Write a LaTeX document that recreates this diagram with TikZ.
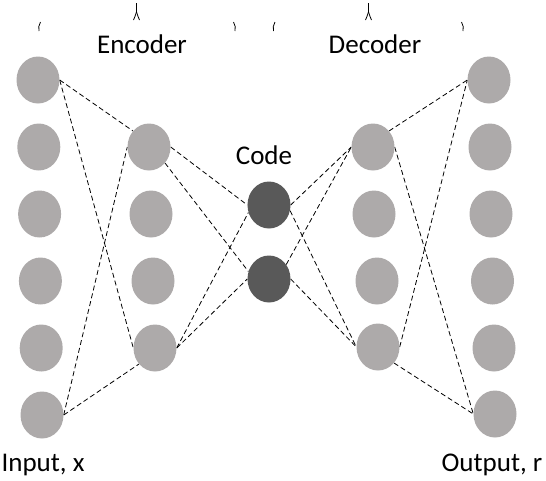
\documentclass[tikz,border=0pt]{standalone}
\usepackage{fontspec}
\setmainfont{Carlito}
\usetikzlibrary{shapes.geometric,backgrounds}
\definecolor{lightnode}{RGB}{173,170,170}
\definecolor{darknode}{RGB}{89,89,89}
\begin{document}
\begin{tikzpicture}[x=1pt,y=-1pt,
  neuron/.style={ellipse,fill=lightnode,draw=none,minimum width=43pt,minimum height=47pt,inner sep=0pt},
  codeneuron/.style={neuron,fill=darknode},
  link/.style={draw=black,line width=0.8pt,dash pattern=on 5pt off 3pt},
  lbl/.style={font=\fontsize{27}{32}\selectfont,anchor=base,inner sep=0pt},
  brace/.style={draw=black,line width=0.8pt}]
\useasboundingbox (0,0) rectangle (546,480);
% input column
\node[neuron] (i1) at (38,80) {};
\node[neuron] (i2) at (38.8,147) {};
\node[neuron] (i3) at (39.6,214) {};
\node[neuron] (i4) at (40.4,281) {};
\node[neuron] (i5) at (41.2,348) {};
\node[neuron] (i6) at (42,415) {};
% encoder
\node[neuron] (e1) at (149,147) {};
\node[neuron] (e2) at (151,214) {};
\node[neuron] (e3) at (153,281) {};
\node[neuron] (e4) at (155,348) {};
% code
\node[codeneuron] (c1) at (269,205) {};
\node[codeneuron] (c2) at (269,279) {};
% decoder
\node[neuron] (d1) at (373,147) {};
\node[neuron] (d2) at (374,214) {};
\node[neuron] (d3) at (377,281) {};
\node[neuron] (d4) at (378,347) {};
% output
\node[neuron] (o1) at (489,80) {};
\node[neuron] (o2) at (490,147) {};
\node[neuron] (o3) at (491,214) {};
\node[neuron] (o4) at (492.5,281) {};
\node[neuron] (o5) at (494,348) {};
\node[neuron] (o6) at (495,414) {};
% labels
\node[lbl] (tenc) at (142,53) {Encoder};
\node[lbl] (tdec) at (375,53) {Decoder};
\node[lbl] (tcode) at (264,164) {Code};
\node[lbl] (tin) at (43,471) {Input, x};
\node[lbl] (tout) at (492,471) {Output, r};
% connectors
\begin{scope}[on background layer]
\draw[link] (i1.east) -- (e1.135);
\draw[link] (i1.east) -- (e4.west);
\draw[link] (i6.east) -- (e1.west);
\draw[link] (i6.east) -- (e4.225);
\draw[link] (e1.east) -- (c1.west);
\draw[link] (e1.-45) -- (c2.160);
\draw[link] (e4.east) -- (c1.200);
\draw[link] (e4.east) -- (c2.west);
\draw[link] (c1.east) -- (d1.west);
\draw[link] (c1.-15) -- (d4.west);
\draw[link] (c2.40) -- (d1.west);
\draw[link] (c2.east) -- (d4.west);
\draw[link] (d1.45) -- (o1.west);
\draw[link] (d1.east) -- (o6.west);
\draw[link] (d4.east) -- (o1.west);
\draw[link] (d4.-45) -- (o6.west);
\end{scope}
% brace remnants
\draw[brace] (40.5,22) .. controls (38.5,25) and (38.5,28) .. (39,31);
\draw[brace] (136.5,3) -- (136.5,12) .. controls (135.5,15) and (134.5,18) .. (133.5,20);
\draw[brace] (136.5,12) .. controls (137.5,15) and (138.5,18) .. (139.5,20);
\draw[brace] (233.5,22) .. controls (235.5,25) and (235.5,28) .. (235,31);
\draw[brace] (275,22) .. controls (273,25) and (273,28) .. (273.5,31);
\draw[brace] (368.5,3) -- (368.5,12) .. controls (367.5,15) and (366.5,18) .. (365.5,20);
\draw[brace] (368.5,12) .. controls (369.5,15) and (370.5,18) .. (371.5,20);
\draw[brace] (461.5,22) .. controls (463.5,25) and (463.5,28) .. (463,31);
\end{tikzpicture}
\end{document}
